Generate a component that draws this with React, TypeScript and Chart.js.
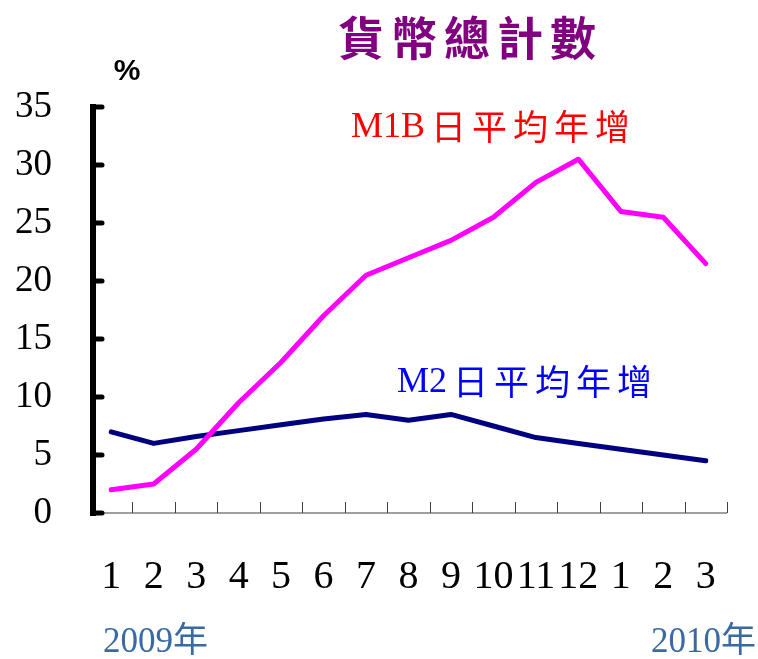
import React, { useEffect, useRef } from "react";
import { Chart, registerables } from "chart.js";

Chart.register(...registerables);

const months = ["1", "2", "3", "4", "5", "6", "7", "8", "9", "10", "11", "12", "1", "2", "3"];
const m1bGrowth = [2.0, 2.5, 5.5, 9.5, 13.0, 17.0, 20.5, 22.0, 23.5, 25.5, 28.5, 30.5, 26.0, 25.5, 21.5];
const m2Growth = [7.0, 6.0, 6.6, 7.1, 7.6, 8.1, 8.5, 8.0, 8.5, 7.5, 6.5, 6.0, 5.5, 5.0, 4.5];
const yTickValues = [0, 5, 10, 15, 20, 25, 30, 35];

const titleText = "貨幣總計數";
const unitText = "%";
const m1bLabel = ["M1B", "日平均年增"];
const m2Label = ["M2", "日平均年增"];
const yearStart = "2009年";
const yearEnd = "2010年";

const SERIF = '"Liberation Serif", "Times New Roman", serif';
const CJK = '"Noto Sans CJK TC", "Noto Sans CJK SC", sans-serif';

const decorPlugin = {
  id: "decor",
  beforeDatasetsDraw(chart: any) {
    const ctx = chart.ctx;
    const xs = chart.scales.x;
    const ys = chart.scales.y;
    const left = xs.left;
    const right = xs.right;
    const bottom = ys.getPixelForValue(0);
    ctx.save();
    ctx.strokeStyle = "#7f7f7f";
    ctx.lineWidth = 1.5;
    ctx.beginPath();
    ctx.moveTo(left, bottom);
    ctx.lineTo(right, bottom);
    ctx.stroke();
    const step = xs.getPixelForValue(1) - xs.getPixelForValue(0);
    ctx.strokeStyle = "#404040";
    ctx.lineWidth = 1;
    for (let i = 0; i < months.length; i++) {
      const px = Math.round(xs.getPixelForValue(i) + step / 2) + 0.5;
      ctx.beginPath();
      ctx.moveTo(px, bottom);
      ctx.lineTo(px, bottom - 11);
      ctx.stroke();
    }
    const top = ys.getPixelForValue(35);
    ctx.strokeStyle = "#000";
    ctx.lineWidth = 6;
    ctx.lineCap = "butt";
    ctx.beginPath();
    ctx.moveTo(left + 3, top - 3);
    ctx.lineTo(left + 3, bottom + 3);
    ctx.stroke();
    ctx.lineWidth = 5;
    ctx.lineCap = "round";
    for (const v of yTickValues) {
      const py = ys.getPixelForValue(v);
      ctx.beginPath();
      ctx.moveTo(left + 3, py);
      ctx.lineTo(left + 12, py);
      ctx.stroke();
    }
    ctx.restore();
  },
  afterDraw(chart: any) {
    const ctx = chart.ctx;
    ctx.save();
    ctx.fillStyle = "#800080";
    ctx.font = `bold 46px ${CJK}`;
    ctx.textBaseline = "middle";
    ctx.textAlign = "left";
    (ctx as any).letterSpacing = "7px";
    ctx.fillText(titleText, 338, 38);
    (ctx as any).letterSpacing = "0px";
    ctx.fillStyle = "#000";
    ctx.font = 'bold 30px "Liberation Sans", Arial, sans-serif';
    ctx.textAlign = "center";
    ctx.textBaseline = "middle";
    ctx.fillText(unitText, 127, 72);

    const drawLabel = (parts: string[], x: number, baseY: number, midY: number, color: string) => {
      ctx.fillStyle = color;
      ctx.textAlign = "left";
      ctx.textBaseline = "alphabetic";
      ctx.font = `36px ${SERIF}`;
      ctx.fillText(parts[0], x, baseY);
      const w = ctx.measureText(parts[0]).width;
      ctx.font = `35px ${CJK}`;
      ctx.textBaseline = "middle";
      (ctx as any).letterSpacing = "6px";
      ctx.fillText(parts[1], x + w + 6, midY);
      (ctx as any).letterSpacing = "0px";
    };
    drawLabel(m1bLabel, 351, 137, 127, "#ff0000");
    drawLabel(m2Label, 397, 392, 382, "#0000ff");

    ctx.fillStyle = "#3a6aa3";
    ctx.font = `35px ${SERIF}, ${CJK}`;
    ctx.textBaseline = "alphabetic";
    ctx.textAlign = "left";
    ctx.fillText(yearStart, 103, 652);
    ctx.textAlign = "right";
    ctx.fillText(yearEnd, 756, 652);
    ctx.restore();
  },
};

export default function App() {
  const canvasRef = useRef<HTMLCanvasElement | null>(null);
  useEffect(() => {
    if (!canvasRef.current) return;
    const chart = new Chart(canvasRef.current, {
      type: "line",
      data: {
        labels: months,
        datasets: [
          {
            label: "M1B日平均年增",
            data: m1bGrowth,
            borderColor: "#ff00ff",
            backgroundColor: "#ff00ff",
            borderWidth: 5,
            pointRadius: 0,
            tension: 0,
            borderCapStyle: "round",
            borderJoinStyle: "round",
          },
          {
            label: "M2日平均年增",
            data: m2Growth,
            borderColor: "#000080",
            backgroundColor: "#000080",
            borderWidth: 5,
            pointRadius: 0,
            tension: 0,
            borderCapStyle: "round",
            borderJoinStyle: "round",
          },
        ],
      },
      options: {
        responsive: false,
        animation: false,
        devicePixelRatio: 1,
        layout: { padding: { top: 107, right: 31, left: 0, bottom: 0 } },
        plugins: {
          legend: { display: false },
          title: { display: false },
          tooltip: { enabled: false },
        },
        scales: {
          x: {
            type: "category",
            offset: true,
            grid: { display: false, drawTicks: false },
            border: { display: false },
            ticks: {
              color: "#000",
              font: { family: SERIF, size: 40 },
              padding: 40,
              maxRotation: 0,
              minRotation: 0,
              autoSkip: false,
            },
            afterFit: (s: any) => {
              s.height = 146;
            },
          },
          y: {
            min: 0,
            max: 35,
            grid: { display: false, drawTicks: false },
            border: { display: false },
            ticks: {
              stepSize: 5,
              color: "#000",
              font: { family: SERIF, size: 37 },
              padding: 38,
            },
            afterFit: (s: any) => {
              s.width = 90;
            },
          },
        },
      },
      plugins: [decorPlugin],
    } as any);
    return () => chart.destroy();
  }, []);
  return (
    <div style={{ position: "absolute", left: 0, top: 0, width: 758, height: 659, background: "#fff" }}>
      <canvas ref={canvasRef} width={758} height={659} />
    </div>
  );
}
